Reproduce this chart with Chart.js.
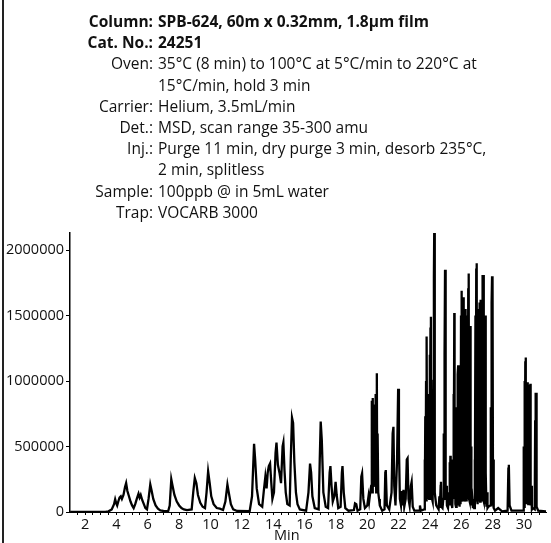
<!DOCTYPE html>
<html>
<head>
<meta charset="utf-8">
<script src="https://cdn.jsdelivr.net/npm/chart.js@4.4.1/dist/chart.umd.min.js"></script>
<style>
  html, body { margin: 0; padding: 0; background: #fff; }
  #wrap { position: relative; width: 551px; height: 543px; overflow: hidden; }
  #frame { position: absolute; left: 2px; top: 0; width: 2px; height: 543px; background: #222; }
  #myChart { position: absolute; left: 0; top: 0; }
  #info { position: absolute; left: 0; top: 11px; font-family: "Open Sans", sans-serif; font-size: 15.5px; line-height: 21.2px; color: #111; }
  #info .row { display: flex; }
  #info .lab { width: 153px; text-align: right; }
  #info .val { margin-left: 5px; white-space: nowrap; }
  #info .b { font-weight: bold; }
  #xname { position: absolute; left: 274px; top: 527px; font-family: "Open Sans", sans-serif; font-size: 14.5px; line-height: 16px; color: #111; }
</style>
</head>
<body>
<div id="wrap">
  <canvas id="myChart" width="551" height="543"></canvas>
  <div id="frame"></div>
  <div id="info"></div>
  <div id="xname">Min</div>
</div>
<script>
// run conditions shown above the trace
var infoLabels = ["Column:", "Cat. No.:", "Oven:", "", "Carrier:", "Det.:", "Inj.:", "", "Sample:", "Trap:"];
var infoValues = ["SPB-624, 60m x 0.32mm, 1.8µm film", "24251",
  "35°C (8 min) to 100°C at 5°C/min to 220°C at", "15°C/min, hold 3 min",
  "Helium, 3.5mL/min", "MSD, scan range 35-300 amu",
  "Purge 11 min, dry purge 3 min, desorb 235°C,", "2 min, splitless",
  "100ppb @ in 5mL water", "VOCARB 3000"];

// tick labels
var xTickLabels = ["2", "4", "6", "8", "10", "12", "14", "16", "18", "20", "22", "24", "26", "28", "30"];
var yTickLabels = ["0", "500000", "1000000", "1500000", "2000000"];

// chromatogram: [minutes, abundance]
var trace = [
  [1.05, 0], [3.3, 0], [3.5, 5000], [3.7, 20000], [3.85, 60000], [3.92, 97000], [3.98, 70000],
  [4.05, 50000], [4.12, 80000], [4.2, 110000], [4.28, 120000], [4.35, 100000], [4.45, 130000],
  [4.55, 190000], [4.62, 220000], [4.7, 160000], [4.8, 120000], [4.9, 80000], [5.0, 50000],
  [5.1, 30000], [5.2, 60000], [5.3, 100000], [5.41, 140000], [5.48, 110000], [5.55, 130000],
  [5.65, 90000], [5.75, 60000], [5.85, 30000], [5.95, 20000], [6.05, 100000], [6.16, 210000],
  [6.25, 160000], [6.35, 100000], [6.5, 50000], [6.65, 25000], [6.8, 12000], [7.0, 8000],
  [7.3, 6000], [7.4, 50000], [7.5, 250000], [7.58, 200000], [7.7, 130000], [7.85, 80000],
  [8.0, 50000], [8.15, 30000], [8.3, 20000], [8.5, 15000], [8.8, 20000], [8.9, 150000],
  [9.0, 260000], [9.1, 220000], [9.2, 130000], [9.35, 70000], [9.5, 40000], [9.65, 30000],
  [9.75, 150000], [9.85, 310000], [9.95, 220000], [10.05, 120000], [10.2, 60000], [10.4, 30000],
  [10.6, 25000], [10.8, 15000], [10.95, 80000], [11.08, 210000], [11.18, 140000], [11.3, 60000],
  [11.45, 20000], [11.7, 8000], [12.5, 6000], [12.65, 120000], [12.78, 520000], [12.85, 400000],
  [12.95, 180000], [13.1, 60000], [13.3, 40000], [13.4, 160000], [13.5, 270000], [13.58, 180000],
  [13.65, 300000], [13.72, 350000], [13.8, 370000], [13.88, 220000], [13.95, 100000], [14.05, 150000],
  [14.15, 450000], [14.21, 530000], [14.3, 360000], [14.4, 300000], [14.5, 220000], [14.6, 500000],
  [14.65, 530000], [14.72, 320000], [14.8, 150000], [14.9, 60000], [15.05, 50000], [15.12, 400000],
  [15.2, 720000], [15.27, 680000], [15.35, 380000], [15.45, 150000], [15.55, 60000], [15.7, 20000],
  [16.1, 10000], [16.25, 150000], [16.35, 370000], [16.42, 300000], [16.5, 120000], [16.65, 30000],
  [16.9, 20000], [16.97, 400000], [17.03, 690000], [17.1, 550000], [17.2, 150000], [17.35, 40000],
  [17.5, 30000], [17.6, 300000], [17.65, 350000], [17.72, 200000], [17.8, 80000], [17.9, 120000],
  [17.98, 230000], [18.05, 130000], [18.15, 30000], [18.3, 40000], [18.38, 300000], [18.42, 350000],
  [18.5, 150000], [18.6, 30000], [18.8, 10000], [19.15, 15000], [19.22, 66000], [19.3, 60000],
  [19.38, 10000], [19.55, 20000], [19.62, 270000], [19.67, 295000], [19.75, 100000], [19.85, 30000],
  [20.0, 50000], [20.08, 120000], [20.12, 80000], [20.18, 140000],
  [20.25, 200000], [20.28, 700000], [20.3, 850000], [20.32, 150000], [20.35, 870000], [20.37, 200000],
  [20.4, 800000], [20.42, 250000], [20.45, 820000], [20.47, 200000], [20.5, 780000], [20.52, 200000],
  [20.55, 900000], [20.57, 150000], [20.61, 1060000], [20.63, 300000], [20.66, 600000], [20.7, 150000],
  [20.75, 100000], [20.8, 50000], [20.95, 10000], [21.1, 20000], [21.15, 300000],
  [21.18, 320000], [21.25, 50000], [21.4, 20000], [21.55, 150000], [21.62, 600000], [21.67, 650000],
  [21.72, 200000], [21.8, 50000], [21.9, 400000], [21.97, 940000], [22.02, 500000], [22.08, 100000],
  [22.15, 50000], [22.2, 160000], [22.25, 50000], [22.31, 170000], [22.36, 40000], [22.45, 100000],
  [22.52, 400000], [22.57, 410000], [22.63, 100000], [22.7, 50000], [22.78, 200000], [22.83, 230000],
  [22.9, 40000], [23.0, 10000], [23.3, 10000], [23.36, 50000], [23.42, 10000],
  [23.62, 20000], [23.66, 400000], [23.68, 50000], [23.7, 730000], [23.72, 100000], [23.75, 1000000],
  [23.77, 80000], [23.8, 1340000], [23.82, 200000], [23.84, 700000], [23.86, 100000], [23.88, 900000],
  [23.9, 150000], [23.93, 700000], [23.95, 100000], [23.98, 1200000], [24.0, 150000], [24.03, 1400000],
  [24.06, 1490000], [24.08, 200000], [24.11, 600000], [24.13, 100000], [24.16, 500000], [24.18, 80000],
  [24.22, 1000000], [24.25, 1800000], [24.27, 2130000], [24.29, 300000], [24.32, 150000], [24.35, 100000],
  [24.4, 50000], [24.45, 40000],
  [24.55, 20000], [24.6, 120000], [24.63, 30000], [24.68, 200000], [24.7, 230000], [24.73, 40000],
  [24.8, 30000], [24.85, 100000], [24.88, 600000], [24.9, 100000], [24.93, 1200000], [24.96, 1850000],
  [24.98, 400000], [25.0, 700000], [25.02, 100000], [25.05, 200000], [25.08, 50000], [25.15, 30000],
  [25.22, 150000], [25.25, 380000], [25.27, 50000], [25.3, 430000], [25.32, 60000], [25.35, 400000],
  [25.38, 60000], [25.42, 30000],
  [25.47, 200000], [25.5, 900000], [25.52, 100000], [25.55, 1520000], [25.57, 300000], [25.6, 800000],
  [25.62, 60000], [25.66, 40000],
  [25.7, 100000], [25.73, 600000], [25.75, 50000], [25.78, 1050000], [25.8, 1120000], [25.82, 60000],
  [25.84, 1100000], [25.86, 80000], [25.88, 400000], [25.9, 40000], [25.93, 800000], [25.95, 60000],
  [25.98, 1500000], [26.0, 80000], [26.02, 1650000], [26.04, 1690000], [26.06, 100000], [26.08, 1550000],
  [26.1, 80000], [26.12, 1600000], [26.14, 1640000], [26.16, 100000], [26.18, 1550000], [26.2, 80000],
  [26.22, 1500000], [26.24, 100000], [26.26, 1550000], [26.28, 80000], [26.3, 1500000], [26.32, 100000],
  [26.34, 1450000], [26.36, 80000], [26.39, 1400000], [26.41, 100000], [26.44, 1700000], [26.47, 1820000],
  [26.49, 100000], [26.52, 1400000], [26.54, 80000], [26.57, 1420000], [26.59, 60000], [26.62, 500000],
  [26.64, 50000], [26.7, 100000], [26.74, 30000], [26.78, 80000],
  [26.82, 30000], [26.85, 400000], [26.87, 50000], [26.9, 1500000], [26.92, 80000], [26.95, 1850000],
  [26.98, 1900000], [27.0, 100000], [27.03, 900000], [27.05, 60000], [27.08, 1200000], [27.1, 80000],
  [27.13, 1550000], [27.15, 100000], [27.18, 1600000], [27.2, 80000], [27.22, 1620000], [27.24, 100000],
  [27.27, 1300000], [27.29, 80000], [27.32, 1500000], [27.34, 100000], [27.37, 1810000], [27.39, 100000],
  [27.42, 1810000], [27.44, 80000], [27.47, 1400000], [27.49, 60000], [27.52, 1500000], [27.54, 60000],
  [27.57, 300000], [27.6, 40000], [27.64, 150000], [27.67, 30000], [27.72, 40000],
  [27.85, 50000], [27.88, 800000], [27.9, 60000], [27.93, 1600000], [27.96, 1800000], [27.98, 100000],
  [28.0, 1780000], [28.02, 60000], [28.05, 400000], [28.08, 30000], [28.15, 10000],
  [28.35, 30000], [28.45, 20000], [28.6, 5000], [28.95, 10000], [29.0, 330000],
  [29.03, 360000], [29.08, 50000], [29.2, 10000],
  [29.95, 10000], [29.98, 500000], [30.0, 40000], [30.03, 1000000], [30.05, 60000], [30.08, 1150000],
  [30.1, 1180000], [30.12, 60000], [30.15, 900000], [30.17, 60000], [30.2, 980000], [30.22, 60000],
  [30.25, 990000], [30.27, 60000], [30.3, 960000], [30.32, 60000], [30.35, 970000], [30.37, 60000],
  [30.4, 980000], [30.42, 50000], [30.45, 200000], [30.5, 20000], [30.55, 30000],
  [30.68, 20000], [30.71, 700000], [30.73, 50000], [30.75, 910000], [30.77, 60000], [30.79, 910000],
  [30.81, 40000], [30.9, 10000], [31.4, 5000]
];

var info = document.getElementById('info');
for (var i = 0; i < infoLabels.length; i++) {
  var row = document.createElement('div');
  row.className = 'row' + (i < 2 ? ' b' : '');
  row.innerHTML = '<span class="lab">' + infoLabels[i] + '</span><span class="val">' + infoValues[i] + '</span>';
  info.appendChild(row);
}

var tickFont = { family: '"Open Sans", sans-serif', size: 14.5 };

var ctx = document.getElementById('myChart').getContext('2d');
var chart = new Chart(ctx, {
  type: 'line',
  data: {
    datasets: [{
      data: trace.map(function (p) { return { x: p[0], y: p[1] }; }),
      borderColor: '#000',
      borderWidth: 2.3,
      borderJoinStyle: 'miter',
      pointRadius: 0,
      tension: 0,
      fill: false
    }]
  },
  options: {
    responsive: false,
    animation: false,
    events: [],
    layout: { padding: { top: 233, right: 5, left: 0, bottom: 0 } },
    plugins: { legend: { display: false }, tooltip: { enabled: false } },
    scales: {
      x: {
        type: 'linear',
        min: 1.04,
        max: 31.4,
        afterBuildTicks: function (scale) {
          var t = [];
          for (var v = 1.5; v <= 31.01; v += 0.5) t.push({ value: v });
          scale.ticks = t;
        },
        afterFit: function (scale) { scale.height = 31; },
        grid: { drawOnChartArea: false, tickLength: 3, color: '#000', lineWidth: 1 },
        border: { color: '#000', width: 1 },
        ticks: {
          autoSkip: false, maxRotation: 0, padding: 1, color: '#111', font: tickFont,
          callback: function (v) {
            var s = String(v);
            return xTickLabels.indexOf(s) >= 0 ? s : '';
          }
        }
      },
      y: {
        min: 0,
        max: 2130000,
        afterBuildTicks: function (scale) {
          scale.ticks = yTickLabels.map(function (s) { return { value: Number(s) }; });
        },
        afterFit: function (scale) { scale.width = 70; },
        grid: { drawOnChartArea: false, tickLength: 4, color: '#000' },
        border: { color: '#000', width: 1.5 },
        ticks: {
          padding: 2, color: '#111', font: tickFont,
          callback: function (v) { return String(v); }
        }
      }
    }
  }
});
</script>
</body>
</html>
